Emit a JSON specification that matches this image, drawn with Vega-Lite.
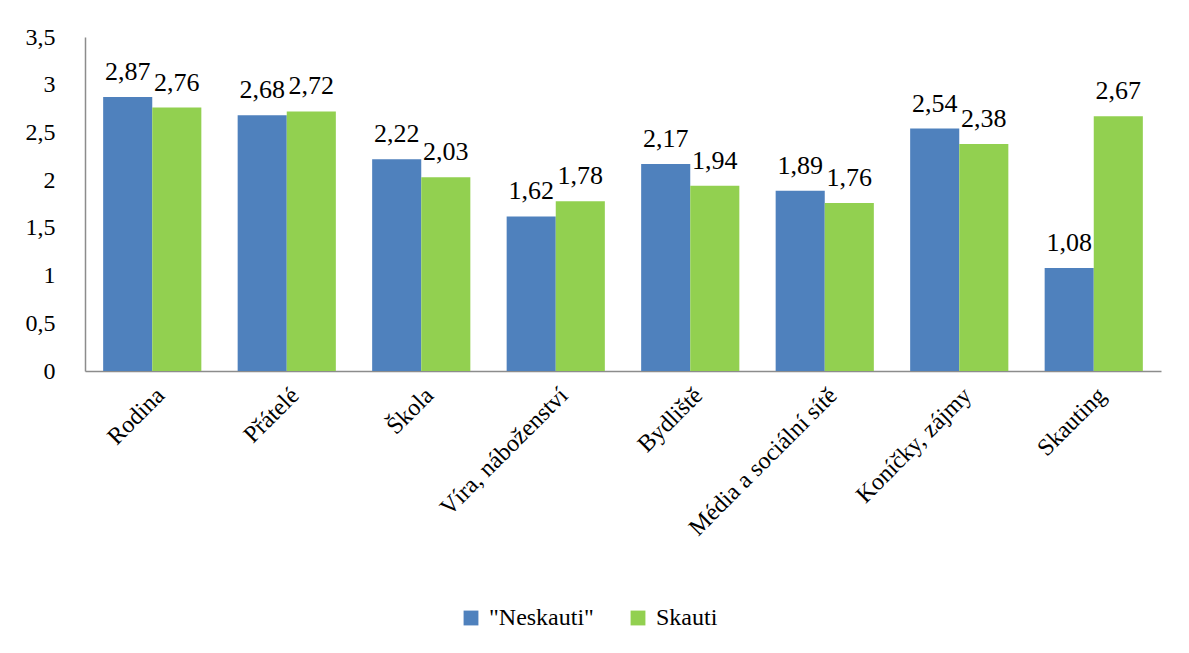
{
  "$schema": "https://vega.github.io/schema/vega-lite/v6.json",
  "autosize": {"type": "none"},
  "width": 1076,
  "height": 334,
  "padding": {"left": 85, "top": 37, "right": 28, "bottom": 282},
  "background": "white",
  "view": {"stroke": null},
  "data": {
    "values": [
      {"kategorie": "Rodina", "skupina": "\"Neskauti\"", "hodnota": 2.87},
      {"kategorie": "Rodina", "skupina": "Skauti", "hodnota": 2.76},
      {"kategorie": "Přátelé", "skupina": "\"Neskauti\"", "hodnota": 2.68},
      {"kategorie": "Přátelé", "skupina": "Skauti", "hodnota": 2.72},
      {"kategorie": "Škola", "skupina": "\"Neskauti\"", "hodnota": 2.22},
      {"kategorie": "Škola", "skupina": "Skauti", "hodnota": 2.03},
      {"kategorie": "Víra, náboženství", "skupina": "\"Neskauti\"", "hodnota": 1.62},
      {"kategorie": "Víra, náboženství", "skupina": "Skauti", "hodnota": 1.78},
      {"kategorie": "Bydliště", "skupina": "\"Neskauti\"", "hodnota": 2.17},
      {"kategorie": "Bydliště", "skupina": "Skauti", "hodnota": 1.94},
      {"kategorie": "Média a sociální sítě", "skupina": "\"Neskauti\"", "hodnota": 1.89},
      {"kategorie": "Média a sociální sítě", "skupina": "Skauti", "hodnota": 1.76},
      {"kategorie": "Koníčky, zájmy", "skupina": "\"Neskauti\"", "hodnota": 2.54},
      {"kategorie": "Koníčky, zájmy", "skupina": "Skauti", "hodnota": 2.38},
      {"kategorie": "Skauting", "skupina": "\"Neskauti\"", "hodnota": 1.08},
      {"kategorie": "Skauting", "skupina": "Skauti", "hodnota": 2.67}
    ]
  },
  "encoding": {
    "x": {
      "field": "kategorie", "type": "nominal", "sort": null,
      "scale": {"paddingInner": 0.27, "paddingOuter": 0.135},
      "axis": {
        "title": null, "labelAngle": -45, "labelFontSize": 24, "labelColor": "black",
        "labelFont": "Liberation Serif", "ticks": false, "labelPadding": 12,
        "domainColor": "#8c8c8c", "domainWidth": 1.5, "labelLimit": 400
      }
    },
    "xOffset": {"field": "skupina", "type": "nominal", "sort": ["\"Neskauti\"", "Skauti"]},
    "y": {
      "field": "hodnota", "type": "quantitative",
      "scale": {"domain": [0, 3.5], "nice": false},
      "axis": {
        "title": null, "values": [0, 0.5, 1, 1.5, 2, 2.5, 3, 3.5], "format": "~g",
        "labelExpr": "replace(datum.label, '.', ',')", "grid": false, "ticks": false,
        "labelFontSize": 24, "labelColor": "black", "labelFont": "Liberation Serif", "labelPadding": 30,
        "domainColor": "#8c8c8c", "domainWidth": 1.5
      }
    }
  },
  "layer": [
    {
      "mark": {"type": "bar"},
      "encoding": {
        "color": {
          "field": "skupina", "type": "nominal", "sort": ["\"Neskauti\"", "Skauti"],
          "scale": {"domain": ["\"Neskauti\"", "Skauti"], "range": ["#4F81BD", "#92D050"]},
          "legend": {
            "title": null, "orient": "none", "legendX": 374, "legendY": 569, "direction": "horizontal", "symbolType": "square",
            "symbolSize": 220, "symbolStrokeWidth": 0, "labelFontSize": 24, "labelFont": "Liberation Serif",
            "labelColor": "black", "columnPadding": 32, "labelOffset": 6
          }
        }
      }
    },
    {
      "mark": {"type": "text", "baseline": "alphabetic", "dy": -17, "fontSize": 26, "font": "Liberation Serif", "color": "black",
        "text": {"expr": "replace(format(datum.hodnota, '.2f'), '.', ',')"}},
      "encoding": {}
    }
  ]
}
